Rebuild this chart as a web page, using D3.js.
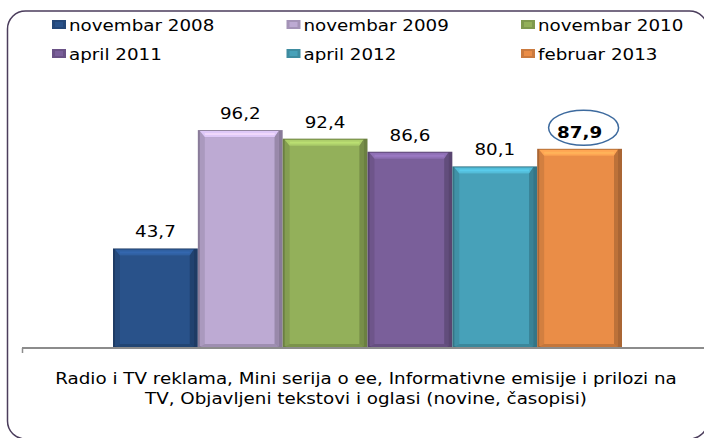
<!DOCTYPE html>
<html>
<head>
<meta charset="utf-8">
<script src="https://cdn.jsdelivr.net/npm/d3@7"></script>
<style>
  body { margin: 0; background: #fff; }
  text { font-family: "DejaVu Sans", Verdana, sans-serif; }
</style>
</head>
<body>
<div id="chart"></div>
<script>
var svgWidth = 704;
var svgHeight = 438;

// data
var series = ["novembar 2008", "novembar 2009", "novembar 2010", "april 2011", "april 2012", "februar 2013"];
var values = [43.7, 96.2, 92.4, 86.6, 80.1, 87.9];
var labels = ["43,7", "96,2", "92,4", "86,6", "80,1", "87,9"];
var categoryLines = ["Radio i TV reklama, Mini serija o ee, Informativne emisije i prilozi na",
                     "TV, Objavljeni tekstovi i oglasi (novine, časopisi)"];
var colors = ["#29528a", "#bdaad3", "#93b05a", "#7a5f9a", "#47a1b9", "#ea8d47"];

// the original picture is stretched sideways, so text is too
var stretch = 1.22;

var svg = d3.select("#chart")
    .append("svg")
    .attr("width", svgWidth)
    .attr("height", svgHeight);

// rounded frame
svg.append("rect")
  .attr("x", 7.5)
  .attr("y", 11)
  .attr("width", 700)
  .attr("height", 428)
  .attr("rx", 18)
  .attr("fill", "none")
  .attr("stroke", "#4b3d5c")
  .attr("stroke-width", 1.5);

// scales
var x = d3.scaleBand()
  .domain(series)
  .range([113, 622])
  .padding(0);

var y = d3.scaleLinear()
  .domain([0, 115])
  .range([347, 87.7]);

// bevelled bar drawing
function bevel(g, x0, y0, w, h, c) {
  var base = d3.color(c);
  g.append("rect").attr("x", x0).attr("y", y0).attr("width", w).attr("height", h)
    .attr("fill", base.darker(0.9));
  var t = 7;
  g.append("rect").attr("x", x0 + 2).attr("y", y0 + 1).attr("width", w - 6).attr("height", h - 2)
    .attr("fill", base.darker(0.3));
  g.append("rect").attr("x", x0 + t).attr("y", y0 + t).attr("width", w - 2 * t - 1).attr("height", h - t - 3)
    .attr("fill", base);
  // top highlight
  g.append("path")
    .attr("d", `M${x0 + 2},${y0 + 1}L${x0 + w - 4},${y0 + 1}L${x0 + w - t - 1},${y0 + t}L${x0 + t},${y0 + t}Z`)
    .attr("fill", base.brighter(0.45));
  g.append("rect").attr("x", x0 + t).attr("y", y0 + 3).attr("width", w - 2 * t - 1).attr("height", 2)
    .attr("fill", base.brighter(0.8)).attr("opacity", 0.6);
  // right dark side
  g.append("path")
    .attr("d", `M${x0 + w - 4},${y0 + 1}L${x0 + w - t - 1},${y0 + t}L${x0 + w - t - 1},${y0 + h - 3}L${x0 + w - 4},${y0 + h}Z`)
    .attr("fill", base.darker(0.6));
  // bottom
  g.append("path")
    .attr("d", `M${x0 + t},${y0 + h - 3}L${x0 + w - t - 1},${y0 + h - 3}L${x0 + w - 4},${y0 + h}L${x0 + 2},${y0 + h}Z`)
    .attr("fill", base.darker(0.5));
}

var barsGroup = svg.append("g");
series.forEach(function(s, i) {
  var g = barsGroup.append("g");
  bevel(g, x(s), y(values[i]), x.bandwidth(), y(0) - y(values[i]), colors[i]);
});

// axis line
svg.append("line")
  .attr("x1", 22).attr("x2", 704)
  .attr("y1", 348).attr("y2", 348)
  .attr("stroke", "#8c8c8c").attr("stroke-width", 2);
svg.append("line")
  .attr("x1", 22.5).attr("x2", 22.5)
  .attr("y1", 348).attr("y2", 353)
  .attr("stroke", "#8c8c8c").attr("stroke-width", 1.5);

// value labels
svg.append("g").selectAll("text")
  .data(series)
  .enter()
  .append("text")
  .attr("transform", (d, i) => `translate(${x(d) + x.bandwidth() / 2},${y(values[i]) - 11}) scale(${stretch},1)`)
  .attr("text-anchor", "middle")
  .attr("font-size", "15px")
  .attr("font-weight", (d, i) => i === 5 ? "bold" : "normal")
  .attr("fill", "#000")
  .text((d, i) => labels[i]);

// highlight ellipse on last value
svg.append("ellipse")
  .attr("cx", x(series[5]) + x.bandwidth() / 2 + 4)
  .attr("cy", y(values[5]) - 21)
  .attr("rx", 35)
  .attr("ry", 17.5)
  .attr("fill", "none")
  .attr("stroke", "#3d6a9e")
  .attr("stroke-width", 1.5);

// category label
svg.append("g").selectAll("text")
  .data(categoryLines)
  .enter()
  .append("text")
  .attr("transform", (d, i) => `translate(366,${384 + i * 20}) scale(${stretch},1)`)
  .attr("text-anchor", "middle")
  .attr("font-size", "15px")
  .attr("fill", "#000")
  .text(d => d);

// legend
var legend = svg.append("g");
series.forEach(function(s, i) {
  var lx = 52 + (i % 3) * 234.5;
  var ly = 31 + Math.floor(i / 3) * 29;
  var c = d3.color(colors[i]);
  legend.append("rect").attr("x", lx).attr("y", ly - 11).attr("width", 14).attr("height", 9)
    .attr("fill", c.darker(0.4));
  legend.append("rect").attr("x", lx + 3).attr("y", ly - 9).attr("width", 8).attr("height", 5)
    .attr("fill", c);
  legend.append("text")
    .attr("transform", `translate(${lx + 17},${ly}) scale(${stretch},1)`)
    .attr("font-size", "15px")
    .attr("fill", "#000")
    .text(s);
});
</script>
</body>
</html>
